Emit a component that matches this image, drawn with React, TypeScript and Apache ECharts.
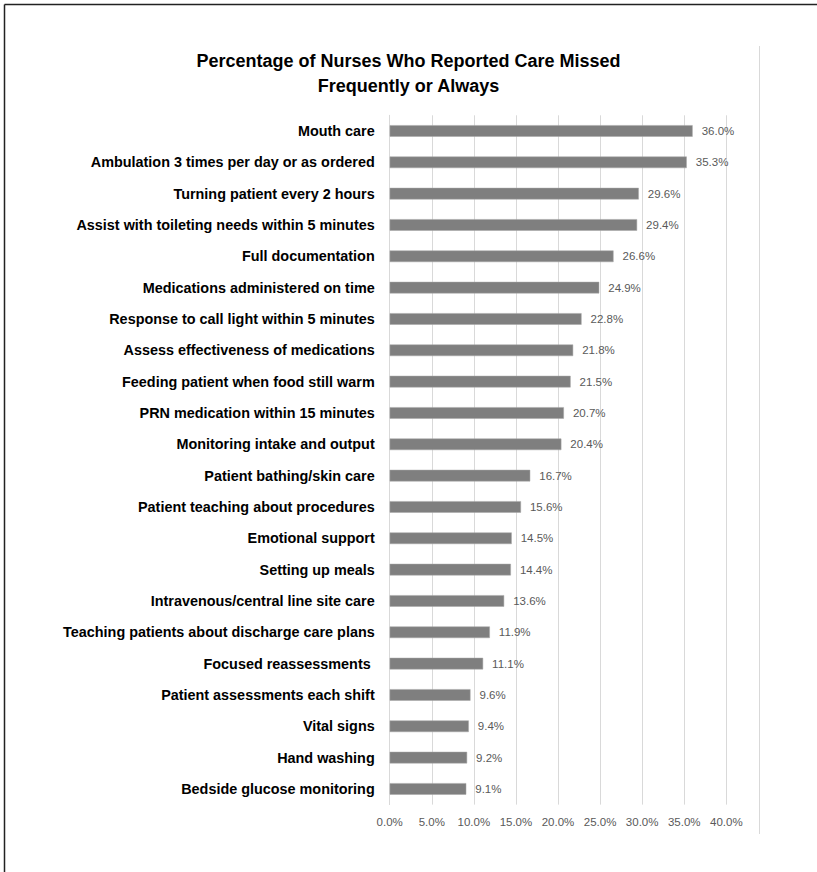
import React, { useEffect, useRef } from "react";
import * as echarts from "echarts";

const titleLines = [
  "Percentage of Nurses Who Reported Care Missed",
  "Frequently or Always",
];

const categories = [
  "Mouth care",
  "Ambulation 3 times per day or as ordered",
  "Turning patient every 2 hours",
  "Assist with toileting needs within 5 minutes",
  "Full documentation",
  "Medications administered on time",
  "Response to call light within 5 minutes",
  "Assess effectiveness of medications",
  "Feeding patient when food still warm",
  "PRN medication within 15 minutes",
  "Monitoring intake and output",
  "Patient bathing/skin care",
  "Patient teaching about procedures",
  "Emotional support",
  "Setting up meals",
  "Intravenous/central line site care",
  "Teaching patients about discharge care plans",
  "Focused reassessments ",
  "Patient assessments each shift",
  "Vital signs",
  "Hand washing",
  "Bedside glucose monitoring",
];

const values = [
  36.0, 35.3, 29.6, 29.4, 26.6, 24.9, 22.8, 21.8, 21.5, 20.7, 20.4, 16.7, 15.6,
  14.5, 14.4, 13.6, 11.9, 11.1, 9.6, 9.4, 9.2, 9.1,
];

const axisMin = 0;
const axisMax = 40;
const axisStep = 5;

const FONT = "'Liberation Sans', Arial, sans-serif";

export default function App() {
  const ref = useRef<HTMLDivElement>(null);

  useEffect(() => {
    if (!ref.current) return;
    const chart = echarts.init(ref.current, null, { renderer: "svg" });
    chart.setOption({
      animation: false,
      backgroundColor: "#ffffff",
      textStyle: { fontFamily: FONT },
      title: {
        text: titleLines.join("\n"),
        left: "center",
        top: 43,
        textStyle: {
          fontFamily: FONT,
          fontSize: 18,
          fontWeight: "bold",
          color: "#000000",
          lineHeight: 25,
        },
      },
      grid: {
        left: 389.7,
        right: 90.7,
        top: 115.3,
        bottom: 67.4,
        containLabel: false,
      },
      xAxis: {
        type: "value",
        min: axisMin,
        max: axisMax,
        interval: axisStep,
        axisLine: { show: false },
        axisTick: { show: false },
        axisLabel: {
          formatter: (v: number) => v.toFixed(1) + "%",
          color: "#595959",
          fontSize: 11.5,
          fontFamily: FONT,
          margin: 11,
        },
        splitLine: { show: true, lineStyle: { color: "#d9d9d9", width: 1 } },
      },
      yAxis: {
        type: "category",
        inverse: true,
        data: categories,
        axisLine: { show: true, lineStyle: { color: "#d9d9d9", width: 1 } },
        axisTick: { show: false },
        axisLabel: {
          color: "#000000",
          fontWeight: "bold",
          fontSize: 14.4,
          fontFamily: FONT,
          margin: 15,
        },
      },
      series: [
        {
          type: "bar",
          data: values,
          barWidth: "37%",
          itemStyle: {
            color: "#7f7f7f",
            borderColor: "#a6a6a6",
            borderWidth: 0.5,
          },
          label: {
            show: true,
            position: "right",
            distance: 9,
            formatter: (p: any) => Number(p.value).toFixed(1) + "%",
            color: "#595959",
            fontSize: 11.5,
            fontFamily: FONT,
          },
        },
      ],
      graphic: [
        {
          type: "line",
          shape: { x1: 4.5, y1: 4.5, x2: 817, y2: 4.5 },
          style: { stroke: "#222222", lineWidth: 1.5 },
          silent: true,
        },
        {
          type: "line",
          shape: { x1: 4.5, y1: 4.5, x2: 4.5, y2: 872 },
          style: { stroke: "#222222", lineWidth: 1.5 },
          silent: true,
        },
        {
          type: "line",
          shape: { x1: 759.5, y1: 46, x2: 759.5, y2: 834 },
          style: { stroke: "#d9d9d9", lineWidth: 1 },
          silent: true,
        },
      ],
    });
    return () => chart.dispose();
  }, []);

  return (
    <div
      ref={ref}
      style={{
        position: "fixed",
        left: 0,
        top: 0,
        width: 817,
        height: 872,
        background: "#ffffff",
      }}
    />
  );
}
